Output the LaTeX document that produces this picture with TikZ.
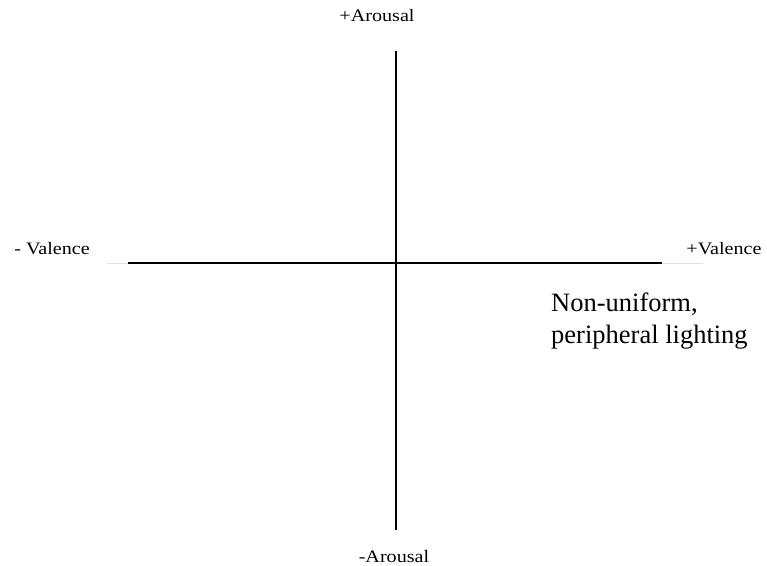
\documentclass[tikz,border=0pt]{standalone}
\usepackage{fontspec}
\setmainfont{Liberation Serif}
\begin{document}
\begin{tikzpicture}[x=1pt,y=-1pt,
  axis/.style={line width=2pt,black},
  ext/.style={line width=1pt,black!12},
  lbl/.style={inner sep=0pt,anchor=base,font=\fontsize{17.5}{20}\selectfont,xscale=1.15},
  note/.style={inner sep=0pt,anchor=base west,align=left,font=\fontsize{26.5}{32}\selectfont}]
\useasboundingbox (0,0) rectangle (767,565);
\coordinate (L) at (128,263);
\coordinate (R) at (662,263);
\coordinate (Lx) at (107,263);
\coordinate (Rx) at (703,263);
\coordinate (T) at (396,51);
\coordinate (B) at (396,530);
\draw[ext] (Lx) -- (L);
\draw[ext] (R) -- (Rx);
\draw[axis] (L) -- (R);
\draw[axis] (T) -- (B);
\node[lbl] (ta) at (377,21) {+Arousal};
\node[lbl] (ba) at (394,562) {-Arousal};
\node[lbl] (lv) at (52,254) {- Valence};
\node[lbl] (rv) at (724,254) {+Valence};
\node[note] (nu) at (551,311) {Non-uniform,};
\node[note] (nu2) at (551,343) {peripheral lighting};
\end{tikzpicture}
\end{document}
